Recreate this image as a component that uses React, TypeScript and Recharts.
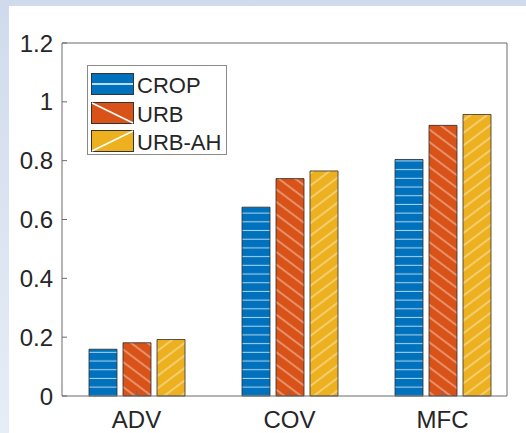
import React from 'react';
import { BarChart, Bar, XAxis, YAxis } from 'recharts';

const categories = ['ADV', 'COV', 'MFC'];
const cropValues = [0.159, 0.642, 0.804];
const urbValues = [0.181, 0.739, 0.92];
const urbAhValues = [0.192, 0.765, 0.957];
const yTicks = [0, 0.2, 0.4, 0.6, 0.8, 1, 1.2];

const seriesNames = ['CROP', 'URB', 'URB-AH'];
const seriesColors = ['#0072BD', '#D95319', '#EDB120'];

const FONT = '"Liberation Sans", Arial, sans-serif';
const AXIS = '#6b6b6b';
const TEXT = '#262626';

const data = categories.map((cat, i) => ({
  cat,
  crop: cropValues[i],
  urb: urbValues[i],
  urbAh: urbAhValues[i],
}));

const XTick = (props: any) => (
  <text x={props.x} y={props.y} dy="0.71em" textAnchor="middle" fontSize={24} fontFamily={FONT} fill={TEXT}>
    {props.payload.value}
  </text>
);

const YTick = (props: any) => (
  <text x={props.x} y={props.y} dy="0.355em" textAnchor="end" fontSize={24} fontFamily={FONT} fill={TEXT}>
    {String(props.payload.value)}
  </text>
);

function LegendBox() {
  return (
    <div
      style={{
        position: 'absolute',
        left: 87,
        top: 65,
        border: '1px solid #8a8a8a',
        background: '#fff',
        width: 140,
        height: 90,
        boxSizing: 'border-box',
        padding: '4px 0 0 3px',
        fontFamily: FONT,
        fontSize: 22,
        color: TEXT,
      }}
    >
      {seriesNames.map((name, i) => (
        <div key={name} style={{ display: 'flex', alignItems: 'center', height: 28.5 }}>
          <svg width={43} height={22} style={{ display: 'block' }}>
            <rect x={0.5} y={0.5} width={42} height={21} fill={seriesColors[i]} stroke="#333" strokeWidth={1} />
            {i === 0 && <line x1={1} y1={11} x2={42} y2={11} stroke="#fff" strokeWidth={1.5} />}
            {i === 1 && <line x1={1} y1={1} x2={42} y2={21} stroke="#fff" strokeWidth={1.5} />}
            {i === 2 && <line x1={1} y1={21} x2={42} y2={1} stroke="#fff" strokeWidth={1.5} />}
          </svg>
          <span style={{ marginLeft: 3, lineHeight: '22px', position: 'relative', top: 2 }}>{name}</span>
        </div>
      ))}
    </div>
  );
}

export default function App() {
  return (
    <div
      style={{
        position: 'fixed',
        left: 0,
        top: 0,
        width: 526,
        height: 433,
        overflow: 'hidden',
        background: 'linear-gradient(180deg, #cfdbec 0%, #dbe4f1 50%, #e7edf7 100%)',
      }}
    >
      <div style={{ position: 'absolute', left: 9, top: 6, right: 0, bottom: 0, background: '#fff' }} />
      <div style={{ position: 'absolute', left: 0, top: 0 }}>
        <BarChart
          width={526}
          height={433}
          data={data}
          margin={{ top: 42, right: 18, bottom: 36, left: 61 }}
          barSize={28}
          barGap={6}
        >
          <defs>
            <pattern id="hatchCrop" patternUnits="userSpaceOnUse" width={10} height={8.7}>
              <rect width={10} height={8.7} fill={seriesColors[0]} />
              <line x1={0} y1={4.3} x2={10} y2={4.3} stroke="rgba(255,255,255,0.7)" strokeWidth={1} />
            </pattern>
            <pattern id="hatchUrb" patternUnits="userSpaceOnUse" width={10} height={10} patternTransform="rotate(37)">
              <rect width={10} height={10} fill={seriesColors[1]} />
              <line x1={0} y1={5} x2={10} y2={5} stroke="rgba(255,255,255,0.7)" strokeWidth={1} />
            </pattern>
            <pattern id="hatchUrbAh" patternUnits="userSpaceOnUse" width={10} height={10} patternTransform="rotate(-37)">
              <rect width={10} height={10} fill={seriesColors[2]} />
              <line x1={0} y1={5} x2={10} y2={5} stroke="rgba(255,255,255,0.7)" strokeWidth={1} />
            </pattern>
          </defs>
          <XAxis
            dataKey="cat"
            height={1}
            padding={{ left: -2, right: -12 }}
            stroke={AXIS}
            tickSize={-5}
            tickMargin={20}
            tick={XTick}
          />
          <XAxis
            xAxisId="top"
            dataKey="cat"
            orientation="top"
            height={1}
            padding={{ left: -2, right: -12 }}
            stroke={AXIS}
            tickSize={-5}
            tick={false}
          />
          <YAxis
            domain={[0, 1.2]}
            ticks={yTicks}
            width={1}
            stroke={AXIS}
            tickSize={-5}
            tickMargin={14}
            interval={0}
            tick={YTick}
          />
          <YAxis
            yAxisId="right"
            orientation="right"
            domain={[0, 1.2]}
            ticks={yTicks}
            width={1}
            stroke={AXIS}
            tickSize={-5}
            interval={0}
            tick={false}
          />
          <Bar dataKey="crop" name="CROP" fill="url(#hatchCrop)" stroke="#2b2b2b" strokeWidth={0.8} isAnimationActive={false} />
          <Bar dataKey="urb" name="URB" fill="url(#hatchUrb)" stroke="#2b2b2b" strokeWidth={0.8} isAnimationActive={false} />
          <Bar dataKey="urbAh" name="URB-AH" fill="url(#hatchUrbAh)" stroke="#2b2b2b" strokeWidth={0.8} isAnimationActive={false} />
        </BarChart>
      </div>
      <LegendBox />
    </div>
  );
}
